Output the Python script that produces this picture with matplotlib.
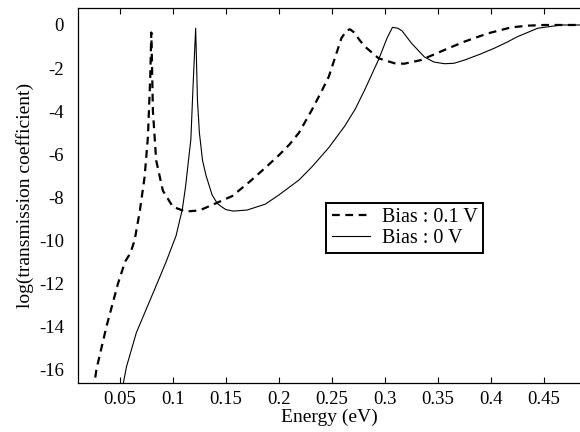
#!/usr/bin/env python
"""
Transmission coefficient vs energy for two bias voltages.
"""

import matplotlib
matplotlib.use("Agg")
import matplotlib.pyplot as plt

plt.rcParams["font.family"] = "serif"
plt.rcParams["font.serif"] = ["Liberation Serif", "DejaVu Serif"]
plt.rcParams["axes.unicode_minus"] = False

# --- Data ---
energy_01v = [0.025, 0.028, 0.0375, 0.0484, 0.055, 0.060, 0.064, 0.069, 0.0734, 0.0765,
              0.0787, 0.0797, 0.0802, 0.0812, 0.0843, 0.0906, 0.100, 0.112, 0.125,
              0.140, 0.156, 0.172, 0.188, 0.200, 0.210, 0.219, 0.231, 0.240, 0.247,
              0.253, 0.259, 0.264, 0.267, 0.271, 0.276, 0.281, 0.294, 0.309, 0.318,
              0.334, 0.356, 0.375, 0.397, 0.419, 0.435, 0.450, 0.484]
logt_01v = [-17.0, -16.0, -14.0, -12.0, -11.0, -10.6, -10.0, -8.6, -7.05, -5.2,
            -2.4, -0.35, -1.5, -4.0, -6.3, -7.7, -8.45, -8.67, -8.62,
            -8.3, -7.95, -7.3, -6.6, -6.05, -5.55, -5.0, -3.95, -3.1, -2.4,
            -1.5, -0.6, -0.25, -0.2, -0.35, -0.7, -1.0, -1.55, -1.78, -1.8,
            -1.63, -1.16, -0.77, -0.39, -0.11, -0.03, 0.0, 0.0]

energy_0v = [0.052, 0.0562, 0.0656, 0.075, 0.0844, 0.0937, 0.103, 0.109, 0.112,
             0.117, 0.119, 0.1215, 0.1222, 0.1232, 0.125, 0.128, 0.1313, 0.137,
             0.142, 0.146, 0.150, 0.157, 0.170, 0.187, 0.200, 0.219, 0.231, 0.247,
             0.262, 0.272, 0.281, 0.294, 0.302, 0.307, 0.312, 0.316, 0.325, 0.337,
             0.346, 0.356, 0.365, 0.375, 0.390, 0.403, 0.415, 0.425, 0.444, 0.466, 0.484]
logt_0v = [-17.0, -15.9, -14.3, -13.2, -12.1, -11.0, -9.8, -8.55, -7.5,
           -5.3, -2.9, -0.15, -1.5, -3.5, -5.0, -6.3, -7.0, -7.9,
           -8.3, -8.45, -8.58, -8.65, -8.6, -8.33, -7.9, -7.2, -6.6, -5.7,
           -4.7, -3.9, -3.0, -1.6, -0.6, -0.11, -0.15, -0.27, -0.85, -1.48,
           -1.72, -1.8, -1.78, -1.63, -1.35, -1.08, -0.8, -0.54, -0.15, 0.0, 0.0]

xticks = [0.05, 0.1, 0.15, 0.2, 0.25, 0.3, 0.35, 0.4, 0.45]
yticks = [0, -2, -4, -6, -8, -10, -12, -14, -16]


def main():
    fig = plt.figure(figsize=(5.8, 4.32), dpi=100)
    ax = fig.add_axes([0.1345, 0.1134, 0.8655, 0.8681])

    ax.plot(energy_01v, logt_01v, color="black", lw=1.6, ls=(0, (3.5, 2.5)),
            label="Bias : 0.1 V")
    ax.plot(energy_0v, logt_0v, color="black", lw=0.8, label="Bias : 0 V")

    ax.set_xlim(0.0106, 0.4838)
    ax.set_ylim(-16.64, 0.79)

    ax.set_xticks(xticks)
    ax.set_xticklabels([f"{t:g}" for t in xticks])
    ax.set_yticks(yticks)
    ax.set_yticklabels([f"{t:d}" for t in yticks])

    ax.tick_params(axis="x", direction="in", top=True, length=4, width=0.8,
                   labelsize=13.5, pad=6)
    ax.tick_params(axis="y", length=0, labelsize=13.5, pad=10)
    ax.spines["right"].set_visible(False)
    for s in ("left", "top", "bottom"):
        ax.spines[s].set_linewidth(0.9)

    ax.set_xlabel("Energy (eV)", fontsize=14, labelpad=0)
    ax.set_ylabel("log(transmission coefficient)", fontsize=14, labelpad=4)

    leg = ax.legend(loc="upper left", bbox_to_anchor=(0.495, 0.481), fontsize=14.5,
                    fancybox=False, framealpha=1, edgecolor="black",
                    handlelength=1.9, borderpad=0.25, labelspacing=0.1,
                    handletextpad=0.6, borderaxespad=0)
    leg.get_frame().set_linewidth(1.4)

    fig.savefig("out.png", dpi=100)
    plt.close(fig)


if __name__ == "__main__":
    main()
